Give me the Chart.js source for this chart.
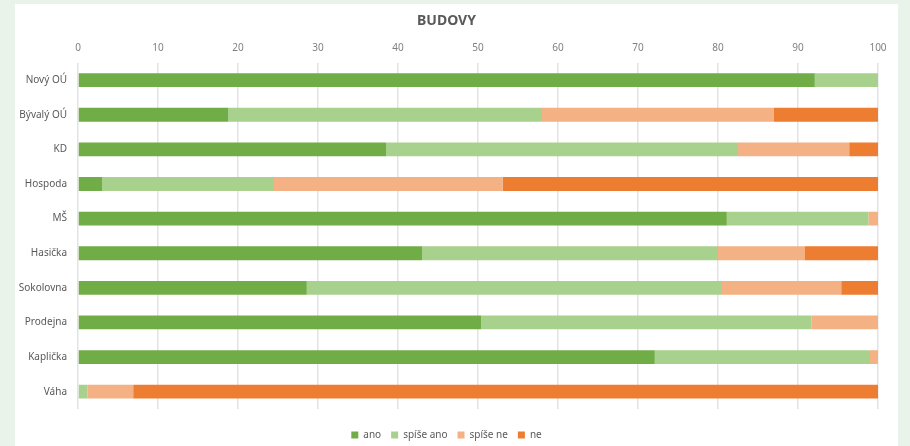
<!DOCTYPE html>
<html>
<head>
<meta charset="utf-8">
<script src="https://cdn.jsdelivr.net/npm/chart.js@4"></script>
<style>
  html, body { margin: 0; padding: 0; background: #e9f3ea; }
  #card { position: absolute; left: 15px; top: 4px; width: 883px; height: 442px; background: #fff; }
</style>
</head>
<body>
<div id="card"><canvas id="budovy-chart"></canvas></div>
<script>
const buildings = ['Nový OÚ', 'Bývalý OÚ', 'KD', 'Hospoda', 'MŠ', 'Hasička', 'Sokolovna', 'Prodejna', 'Kaplička', 'Váha'];

const ano       = [92.1, 18.8, 38.5,  3.0, 81.1, 43.0, 28.6, 50.4, 72.1,  0.0];
const spiseAno  = [ 7.9, 39.2, 44.0, 21.5, 17.7, 37.0, 51.9, 41.3, 26.9,  1.2];
const spiseNe   = [ 0.0, 29.0, 13.9, 28.6,  1.2, 10.8, 14.9,  8.3,  1.0,  5.7];
const ne        = [ 0.0, 13.0,  3.6, 46.9,  0.0,  9.2,  4.6,  0.0,  0.0, 93.1];

const seriesNames = ['ano', 'spíše ano', 'spíše ne', 'ne'];
const xTicks = [0, 10, 20, 30, 40, 50, 60, 70, 80, 90, 100];

function getColor(name) {
    if (name === 'ano') return '#70ad47'
    if (name === 'spíše ano') return '#a9d18e'
    if (name === 'spíše ne') return '#f4b183'
    if (name === 'ne') return '#ed7d31'
}

const seriesData = [ano, spiseAno, spiseNe, ne];

new Chart(document.querySelector('#budovy-chart').getContext('2d'), {
    type: 'bar',
    data: {
        labels: buildings,
        datasets: seriesNames.map((name, i) => ({
            label: name,
            data: seriesData[i],
            backgroundColor: getColor(name),
            borderWidth: 0,
            barPercentage: 0.4,
            categoryPercentage: 1
        }))
    },
    options: {
        indexAxis: 'y',
        responsive: true,
        maintainAspectRatio: false,
        animation: false,
        layout: { padding: { left: 0, right: 20, top: 0, bottom: -4 } },
        plugins: {
            title: {
                display: true,
                text: 'BUDOVY',
                color: '#595959',
                font: { family: 'Noto Sans', size: 14, weight: 'bold' },
                padding: { top: 9, bottom: 9 }
            },
            legend: {
                position: 'bottom',
                labels: {
                    boxWidth: 7,
                    boxHeight: 7,
                    padding: 10,
                    color: '#595959',
                    font: { family: 'Noto Sans', size: 10 }
                }
            },
            tooltip: { enabled: false }
        },
        scales: {
            x: {
                position: 'top',
                stacked: true,
                min: 0,
                max: 100,
                afterBuildTicks: scale => { scale.ticks = xTicks.map(v => ({ value: v })) },
                afterFit: scale => { scale.height = 24 },
                grid: { color: '#e3e3e3', lineWidth: 1.5, drawTicks: false },
                border: { display: false },
                ticks: {
                    color: '#808080',
                    padding: 9,
                    font: { family: 'Noto Sans', size: 10 }
                }
            },
            // empty strip between the bars and the legend
            gap: {
                axis: 'x',
                type: 'linear',
                position: 'bottom',
                afterFit: scale => { scale.height = 11 },
                grid: { display: false, drawTicks: false },
                border: { display: false },
                ticks: { display: false }
            },
            y: {
                stacked: true,
                afterFit: scale => { scale.width = 63 },
                grid: { display: false, drawTicks: false },
                border: { display: false },
                ticks: {
                    color: '#595959',
                    padding: 11,
                    font: { family: 'Noto Sans', size: 10 }
                }
            }
        }
    }
});
</script>
</body>
</html>
